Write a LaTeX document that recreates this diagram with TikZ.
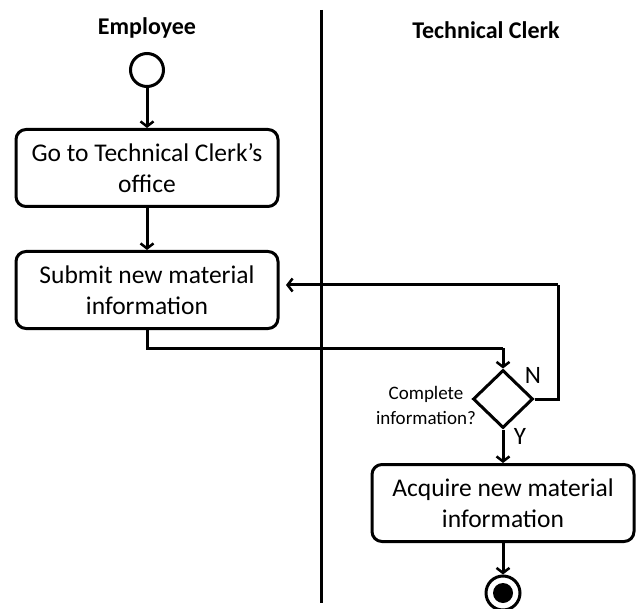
\documentclass[tikz,border=0pt]{standalone}
\usepackage{fontspec}
\setmainfont{Carlito}
\usetikzlibrary{arrows.meta,shapes.geometric}
\begin{document}
\begin{tikzpicture}[x=1pt,y=-1pt,line width=3pt,
        act/.style={draw,rounded corners=10pt,minimum width=262pt,minimum height=77pt,
            align=center,font=\fontsize{25.5}{31}\selectfont},
        lane/.style={font=\bfseries\fontsize{24}{26}\selectfont},
        flow/.style={-{Straight Barb[length=5pt,width=13pt,line width=2.5pt]}}]
        \useasboundingbox (0,0) rectangle (639,609);
        % swimlanes
        \node[lane] (emp) at (147,28) {Employee};
        \node[lane] (clerk) at (486,30) {Technical Clerk};
        \coordinate (ltop) at (321,10);
        \coordinate (lbot) at (321,603);
        \draw (ltop) -- (lbot);
        % employee side
        \node[draw,circle,minimum size=33pt,inner sep=0] (start) at (147,70) {};
        \node[act] (go) at (147,168) {Go to Technical Clerk's\\office};
        \node[act] (submit) at (147,290) {Submit new material\\information};
        \draw[flow] (start) -- (go);
        \draw[flow] (go) -- (submit);
        % clerk side
        \node[draw,diamond,aspect=1,minimum width=60pt,minimum height=58pt,inner sep=0] (check) at (503,399) {};
        \node[align=center,font=\fontsize{19}{25}\selectfont] (q) at (426,405) {Complete\\information?};
        \node[font=\fontsize{25}{26}\selectfont] (n) at (533,375) {N};
        \node[font=\fontsize{25}{26}\selectfont] (y) at (520,436) {Y};
        \node[act] (acquire) at (503,503) {Acquire new material\\information};
        \node[draw,circle,minimum size=34pt,inner sep=0] (stop) at (503,593) {};
        \fill (stop.center) circle (10pt);
        \coordinate (bend) at (503,348);
        \coordinate (nloop) at (558,285);
        \coordinate (back) at (286,285);
        \draw (submit.south) |- (bend);
        \draw[flow] (bend) -- (check.north);
        \draw (check.east) -| (nloop);
        \draw[flow] (nloop) -- (back);
        \draw[flow] (check.south) -- (acquire);
        \draw[flow] (acquire) -- (stop);
    \end{tikzpicture}
\end{document}
